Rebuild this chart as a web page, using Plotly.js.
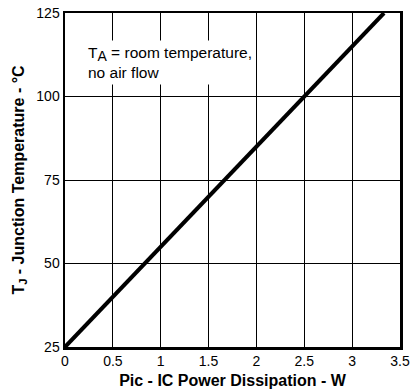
<!DOCTYPE html>
<html>
<head>
<meta charset="utf-8">
<script src="https://cdn.plot.ly/plotly-3.0.1.min.js"></script>
<style>
  html, body { margin: 0; padding: 0; background: #fff; }
  #chart { width: 410px; height: 391px; }
</style>
</head>
<body>
<div id="chart"></div>
<script>
// Junction temperature vs. IC power dissipation (about 30 °C/W, still air)
const powerW = [0, 3.333];
const junctionTempC = [25, 125];
const xTicks = [0, 0.5, 1, 1.5, 2, 2.5, 3, 3.5];
const xTickText = ['0', '0.5', '1', '1.5', '2', '2.5', '3', '3.5'];
const yTicks = [25, 50, 75, 100, 125];
const yTickText = ['25', '50', '75', '100', '125'];

const font = 'Liberation Sans, Arial, sans-serif';

const trace = {
  x: powerW,
  y: junctionTempC,
  mode: 'lines',
  line: { color: '#000', width: 4 },
  hoverinfo: 'skip',
  showlegend: false
};

const layout = {
  width: 410,
  height: 391,
  margin: { l: 65, r: 10, t: 13, b: 44 },
  paper_bgcolor: '#fff',
  plot_bgcolor: '#fff',
  font: { family: font, color: '#000', size: 14 },
  xaxis: {
    range: [0, 3.5],
    tickvals: xTicks,
    ticktext: xTickText,
    showgrid: true,
    gridcolor: '#000',
    gridwidth: 1,
    zeroline: false,
    showline: true,
    linecolor: '#000',
    linewidth: 2.5,
    mirror: true,
    ticks: '',
    ticklen: 0,
    tickfont: { family: font, size: 14 },
    title: {
      text: '<b>Pic - IC Power Dissipation - W</b>',
      font: { family: font, size: 16 },
      standoff: 7
    }
  },
  yaxis: {
    range: [25, 125],
    tickvals: yTicks,
    ticktext: yTickText,
    showgrid: true,
    gridcolor: '#000',
    gridwidth: 1,
    zeroline: false,
    showline: true,
    linecolor: '#000',
    linewidth: 2.5,
    mirror: true,
    ticks: '',
    ticklen: 0,
    tickfont: { family: font, size: 14 },
    title: {
      text: '<b>T<sub>J</sub> - Junction Temperature - °C</b>',
      font: { family: font, size: 16 },
      standoff: 8
    }
  },
  annotations: [{
    xref: 'x', yref: 'y',
    x: 0.2, y: 116.8,
    xanchor: 'left', yanchor: 'top',
    align: 'left',
    showarrow: false,
    text: 'T<sub><span style="font-size:14px">A</span></sub> = room temperature,<br>no air flow',
    font: { family: font, size: 15.5, color: '#000' },
    bgcolor: '#fff',
    borderpad: 3
  }]
};

Plotly.newPlot('chart', [trace], layout, { displayModeBar: false, staticPlot: true });
</script>
</body>
</html>
